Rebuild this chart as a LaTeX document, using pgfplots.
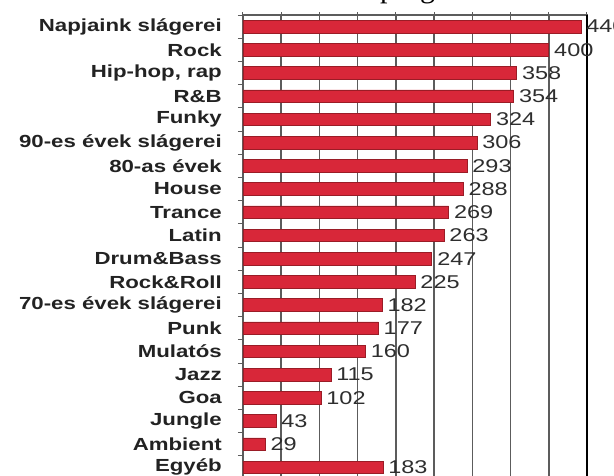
\documentclass[border=0pt]{standalone}
\usepackage{pgfplots}
\pgfplotsset{compat=1.18}
\usepackage{fontspec}
\setmainfont{Liberation Sans}
\newfontfamily\titlefont{Liberation Serif}
\definecolor{barred}{HTML}{D82739}
\definecolor{baredge}{HTML}{9A1C26}
\definecolor{gridgray}{HTML}{5C5C5C}
\definecolor{txt}{HTML}{222222}
\definecolor{valtxt}{HTML}{2E2E2E}
\begin{document}
\begin{tikzpicture}
\useasboundingbox (0pt,0pt) rectangle (614pt,475pt);
\clip (0pt,0pt) rectangle (614pt,475pt);
\node[anchor=base west, inner sep=0pt, font=\titlefont\fontsize{30}{32}\selectfont] at (380pt,477pt) {program};
\begin{axis}[
  at={(243pt,460pt)}, anchor=north west,
  scale only axis, width=344pt, height=464pt,
  xbar, bar width=12.5pt,
  xmin=0, xmax=450,
  ymin=-0.5, ymax=19.5, y dir=reverse,
  xtick={0,50,...,450}, xticklabels={},
  xmajorgrids, major grid style={draw=gridgray, line width=1.6pt},
  xtick pos=upper, tick align=outside,
  major x tick style={draw=gridgray, line width=1pt},
  ytick={0,...,19},
  yticklabels={Napjaink slágerei, Rock, {Hip-hop, rap}, R\&B, Funky, 90-es évek slágerei, 80-as évek, House, Trance, Latin, Drum\&Bass, Rock\&Roll, 70-es évek slágerei, Punk, Mulatós, Jazz, Goa, Jungle, Ambient, Egyéb},
  ytick pos=left,
  major y tick style={draw=none},
  minor ytick={-0.5,0.5,...,19.5},
  minor y tick style={draw=gridgray, line width=1pt},
  minor tick length=5pt,
  major tick length=3pt,
  yticklabel style={anchor=east, inner sep=0pt, xshift=-18pt, text=txt,
    font=\bfseries\fontsize{17.5}{18}\selectfont, xscale=1.27},
  axis line style={draw=gridgray, line width=1.3pt},
  nodes near coords,
  nodes near coords style={anchor=west, inner sep=0pt, xshift=5pt, text=valtxt,
    font=\fontsize{18.5}{19}\selectfont, xscale=1.27},
  point meta=explicit symbolic,
  clip=false,
]
\addplot[fill=barred, draw=baredge, line width=0.7pt] coordinates {
  (442,0) [440]
  (400,1) [400]
  (358,2) [358]
  (354,3) [354]
  (324,4) [324]
  (306,5) [306]
  (293,6) [293]
  (288,7) [288]
  (269,8) [269]
  (263,9) [263]
  (247,10) [247]
  (225,11) [225]
  (182,12) [182]
  (177,13) [177]
  (160,14) [160]
  (115,15) [115]
  (102,16) [102]
  (43,17) [43]
  (29,18) [29]
  (183,19) [183]
};
\draw[black, line width=2pt] (rel axis cs:1,0) -- (rel axis cs:1,1);
\end{axis}
\end{tikzpicture}
\end{document}
